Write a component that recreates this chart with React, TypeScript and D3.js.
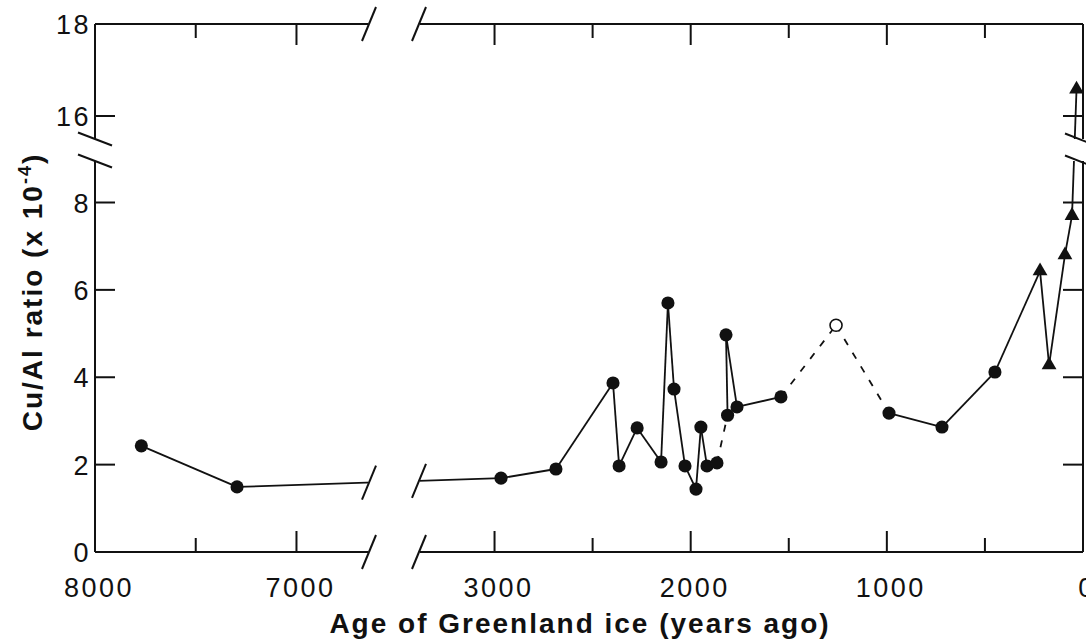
import React from "react";
import * as d3 from "d3";

// ages (years ago) and Cu/Al ratio (x 1e-4)
const ages = [7770, 7295, 2967, 2687, 2396, 2365, 2273, 2151, 2116, 2085, 2029, 1973, 1948, 1917, 1866, 1812, 1820, 1764, 1540, 1259, 989, 719, 449, 219, 173, 92, 56, 33];
const ratios = [2.43, 1.49, 1.69, 1.9, 3.87, 1.97, 2.84, 2.06, 5.7, 3.73, 1.97, 1.44, 2.86, 1.97, 2.04, 3.13, 4.97, 3.32, 3.55, 5.19, 3.18, 2.86, 4.12, 6.43, 4.28, 6.8, 7.7, 16.58];
const markerKinds = ["dot", "dot", "dot", "dot", "dot", "dot", "dot", "dot", "dot", "dot", "dot", "dot", "dot", "dot", "dot", "dot", "dot", "dot", "dot", "open", "dot", "dot", "dot", "tri", "tri", "tri", "tri", "tri"];
const dashedSegments = [14, 18, 19]; // segment i -> i+1 drawn dashed

const leftMajor = [7000];
const leftMinor = [7500];
const rightMajor = [3000, 2000, 1000];
const rightMinor = [2500, 1500, 500];
const xLabels = [8000, 7000, 3000, 2000, 1000, 0];
const yLowTicks = [0, 2, 4, 6, 8];
const yHighTicks = [16, 18];

const W = 1086;
const H = 644;
const plotL = 95, plotR = 1083, plotT = 24, plotB = 552;
const gapXL = 368, gapXR = 420, gapYT = 139, gapYB = 161;

const xLeft = d3.scaleLinear().domain([8000, 6645]).range([plotL, gapXL]);
const xRight = d3.scaleLinear().domain([3380, 0]).range([gapXR, plotR]);
const xGap = d3.scaleLinear().domain([6645, 3380]).range([gapXL, gapXR]);
const yLow = d3.scaleLinear().domain([0, 8.95]).range([plotB, gapYB]);
const yHigh = d3.scaleLinear().domain([15.5, 18]).range([gapYT, plotT]);
const yGap = d3.scaleLinear().domain([8.95, 15.5]).range([gapYB, gapYT]);

const xPos = (a: number) => (a >= 6645 ? xLeft(a) : a <= 3380 ? xRight(a) : xGap(a));
const yPos = (v: number) => (v <= 8.95 ? yLow(v) : v >= 15.5 ? yHigh(v) : yGap(v));

const ink = "#111";
const font = "'Liberation Sans', Arial, sans-serif";

const pts: [number, number][] = ages.map((a, i) => [xPos(a), yPos(ratios[i])]);
const line = d3.line();

// y where the data line crosses the x break
const crossY = (x: number) => {
  const [p, q] = [pts[1], pts[2]];
  return p[1] + ((x - p[0]) / (q[0] - p[0])) * (q[1] - p[1]);
};

const Slash = ({ x, y, dx, dy }: { x: number; y: number; dx: number; dy: number }) => (
  <line x1={x - dx} y1={y - dy} x2={x + dx} y2={y + dy} stroke={ink} strokeWidth={2} />
);

export default function App() {
  const circleSym = d3.symbol(d3.symbolCircle, 135)()!;
  const triSym = d3.symbol(d3.symbolTriangle, 95)()!;
  const axisW = 2;

  const xTicks = [
    ...leftMajor.map((a) => ({ x: xLeft(a), len: 21 })),
    ...leftMinor.map((a) => ({ x: xLeft(a), len: 14 })),
    ...rightMajor.map((a) => ({ x: xRight(a), len: 21 })),
    ...rightMinor.map((a) => ({ x: xRight(a), len: 14 })),
  ];
  const yTicks = [...yLowTicks.map((v) => yLow(v)), ...yHighTicks.map((v) => yHigh(v))];

  return (
    <svg width={W} height={H} style={{ position: "absolute", left: 0, top: 0, background: "#fff" }}>
      <defs>
        <clipPath id="plotClip">
          <rect x={plotL - 10} y={plotT - 30} width={gapXL - plotL + 10} height={gapYT - plotT + 30} />
          <rect x={plotL - 10} y={gapYB} width={gapXL - plotL + 10} height={plotB - gapYB + 10} />
          <rect x={gapXR} y={plotT - 30} width={plotR - gapXR + 10} height={gapYT - plotT + 30} />
          <rect x={gapXR} y={gapYB} width={plotR - gapXR + 10} height={plotB - gapYB + 10} />
        </clipPath>
      </defs>

      {/* axes frame */}
      <g stroke={ink} strokeWidth={axisW} fill="none">
        <line x1={plotL} y1={plotB} x2={gapXL} y2={plotB} />
        <line x1={gapXR} y1={plotB} x2={plotR} y2={plotB} />
        <line x1={plotL} y1={plotT} x2={gapXL} y2={plotT} />
        <line x1={gapXR} y1={plotT} x2={plotR} y2={plotT} />
        <line x1={plotL} y1={plotT} x2={plotL} y2={gapYT} />
        <line x1={plotL} y1={gapYB} x2={plotL} y2={plotB} />
        <line x1={plotR} y1={plotT} x2={plotR} y2={gapYT} />
        <line x1={plotR} y1={gapYB} x2={plotR} y2={plotB} />
        {xTicks.map((t, i) => (
          <g key={"xt" + i}>
            <line x1={t.x} y1={plotB} x2={t.x} y2={plotB - t.len} />
            <line x1={t.x} y1={plotT} x2={t.x} y2={plotT + t.len} />
          </g>
        ))}
        {yTicks.map((y, i) => (
          <g key={"yt" + i}>
            <line x1={plotL} y1={y} x2={plotL + 20} y2={y} />
            <line x1={plotR} y1={y} x2={plotR - 20} y2={y} />
          </g>
        ))}
      </g>

      {/* break marks */}
      <Slash x={gapXL + 1} y={plotT} dx={7} dy={-17} />
      <Slash x={gapXR - 1} y={plotT} dx={7} dy={-17} />
      <Slash x={gapXL + 1} y={plotB} dx={7} dy={-17} />
      <Slash x={gapXR - 1} y={plotB} dx={7} dy={-17} />
      <Slash x={gapXL + 1} y={crossY(gapXL + 1)} dx={7} dy={-17} />
      <Slash x={gapXR - 1} y={crossY(gapXR - 1)} dx={7} dy={-17} />
      <Slash x={plotL} y={gapYT} dx={17} dy={6.5} />
      <Slash x={plotL} y={gapYB} dx={17} dy={6.5} />
      <Slash x={plotR - 4} y={gapYT} dx={14} dy={5.5} />
      <Slash x={plotR - 4} y={gapYB} dx={14} dy={5.5} />

      {/* data line */}
      <g clipPath="url(#plotClip)" fill="none" stroke={ink} strokeWidth={1.8}>
        {pts.slice(0, -1).map((p, i) => (
          <path
            key={"s" + i}
            d={line([p, pts[i + 1]]) || ""}
            strokeDasharray={dashedSegments.includes(i) ? "7,9" : undefined}
          />
        ))}
      </g>

      {/* markers */}
      {pts.map((p, i) => {
        const k = markerKinds[i];
        if (k === "tri")
          return <path key={"m" + i} d={triSym} transform={`translate(${p[0]},${p[1]})`} fill={ink} />;
        if (k === "open")
          return <circle key={"m" + i} cx={p[0]} cy={p[1]} r={6} fill="#fff" stroke={ink} strokeWidth={1.6} />;
        return <path key={"m" + i} d={circleSym} transform={`translate(${p[0]},${p[1]})`} fill={ink} />;
      })}

      {/* tick labels */}
      <g fontFamily={font} fontSize={27} fill={ink} letterSpacing={2.5}>
        {xLabels.map((a) => (
          <text key={"xl" + a} x={(a >= 6645 ? xLeft(a) : xRight(a)) + 4} y={597} textAnchor="middle">
            {a}
          </text>
        ))}
        {yLowTicks.map((v) => (
          <text key={"yl" + v} x={91} y={yLow(v) + 10} textAnchor="end">
            {v}
          </text>
        ))}
        {yHighTicks.map((v) => (
          <text key={"yh" + v} x={91} y={yHigh(v) + 10} textAnchor="end">
            {v}
          </text>
        ))}
      </g>

      {/* axis titles */}
      <text x={580} y={633} textAnchor="middle" fontFamily={font} fontWeight="bold" fontSize={28} letterSpacing={2} fill={ink}>
        Age of Greenland ice (years ago)
      </text>
      <text
        transform={`translate(42,292) rotate(-90)`}
        textAnchor="middle"
        fontFamily={font}
        fontWeight="bold"
        fontSize={28}
        letterSpacing={2}
        fill={ink}
      >
        Cu/Al ratio (x 10
        <tspan fontSize={18} dy={-11}>-4</tspan>
        <tspan dy={11}>)</tspan>
      </text>
    </svg>
  );
}
